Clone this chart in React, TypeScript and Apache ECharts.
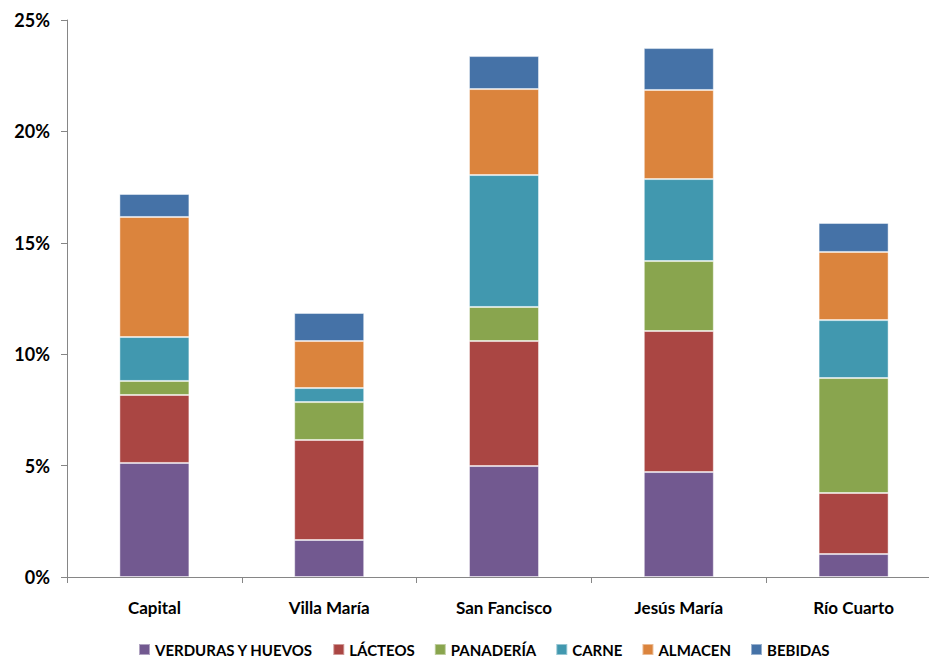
import React, { useEffect, useRef } from "react";
import * as echarts from "echarts";

const categories = ["Capital", "Villa María", "San Fancisco", "Jesús María", "Río Cuarto"];
const seriesNames = ["VERDURAS Y HUEVOS", "LÁCTEOS", "PANADERÍA", "CARNE", "ALMACEN", "BEBIDAS"];
const verduras = [5.12, 1.66, 4.98, 4.71, 1.03];
const lacteos = [3.05, 4.49, 5.61, 6.33, 2.74];
const panaderia = [0.63, 1.7, 1.53, 3.14, 5.16];
const carne = [1.97, 0.63, 5.92, 3.68, 2.6];
const almacen = [5.39, 2.11, 3.86, 4.0, 3.06];
const bebidas = [1.03, 1.26, 1.48, 1.88, 1.3];
const colors = ["#725990", "#AA4643", "#89A54E", "#4198AF", "#DB843D", "#4572A7"];
const yTicks = [0, 5, 10, 15, 20, 25];

export default function App() {
  const ref = useRef<HTMLDivElement>(null);
  useEffect(() => {
    document.body.style.margin = "0";
    document.body.style.overflow = "hidden";
    const chart = echarts.init(ref.current!, null, { renderer: "svg" });
    const data = [verduras, lacteos, panaderia, carne, almacen, bebidas];
    const font = "Lato, 'Open Sans', sans-serif";
    chart.setOption({
      animation: false,
      color: colors,
      grid: { left: 67, top: 20, right: 0, bottom: 80, containLabel: false },
      legend: {
        top: 637,
        left: 133,
        itemWidth: 11,
        itemHeight: 11,
        itemGap: 19,
        icon: "rect",
        textStyle: { fontFamily: font, fontWeight: "bold", fontSize: 15, color: "#000" },
        data: seriesNames,
      },
      xAxis: {
        type: "category",
        data: categories,
        axisLine: { lineStyle: { color: "#868686", width: 1 } },
        axisTick: { show: true, length: 6, lineStyle: { color: "#868686" } },
        axisLabel: { fontFamily: font, fontWeight: "bold", fontSize: 17, color: "#000", margin: 22 },
      },
      yAxis: {
        type: "value",
        min: yTicks[0],
        max: yTicks[yTicks.length - 1],
        interval: 5,
        axisLine: { show: true, lineStyle: { color: "#868686", width: 1 } },
        axisTick: { show: true, length: 6, lineStyle: { color: "#868686" } },
        splitLine: { show: false },
        axisLabel: {
          fontFamily: font,
          fontWeight: "bold",
          fontSize: 18,
          color: "#000",
          margin: 17,
          formatter: (v: number) => v + "%",
        },
      },
      series: seriesNames.map((name, i) => ({
        name,
        type: "bar",
        stack: "total",
        barWidth: 70,
        data: data[i],
        itemStyle: { borderColor: "rgba(255,255,255,0.45)", borderWidth: 1 },
      })),
    });
    return () => chart.dispose();
  }, []);
  return (
    <div style={{ position: "absolute", left: 0, top: 0, width: 929, height: 657, overflow: "hidden" }}>
      <div ref={ref} style={{ width: 941, height: 657 }} />
    </div>
  );
}
